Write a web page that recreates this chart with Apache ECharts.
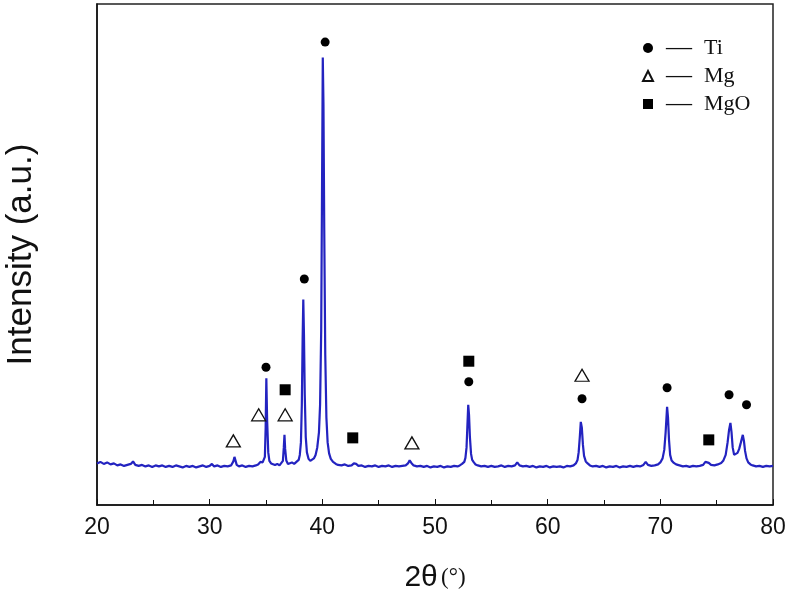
<!DOCTYPE html>
<html>
<head>
<meta charset="utf-8">
<script src="https://cdn.jsdelivr.net/npm/echarts@6/dist/echarts.min.js"></script>
<style>
  html, body { margin: 0; padding: 0; background: #fff; }
  #chart { width: 792px; height: 608px; }
</style>
</head>
<body>
<div id="chart"></div>
<script>
// XRD pattern, [2theta, intensity]
var xrd = [
  [20.0, 8.3], [20.3, 8.6], [20.6, 8.2], [20.9, 8.5], [21.2, 8.1], [21.5, 8.3], [21.8, 7.9], [22.1, 8.1],
  [22.4, 7.8], [22.7, 8.0], [23.0, 8.2], [23.2, 8.7], [23.4, 8.0], [23.7, 7.8], [24.0, 8.0], [24.3, 7.7],
  [24.6, 7.9], [24.9, 7.6], [25.2, 7.9], [25.5, 7.7], [25.8, 7.9], [26.1, 7.6], [26.4, 7.8], [26.7, 7.6],
  [27.0, 7.9], [27.3, 7.7], [27.6, 7.5], [27.9, 7.8], [28.2, 7.6], [28.5, 7.8], [28.8, 7.5], [29.1, 7.7],
  [29.4, 7.9], [29.7, 7.6], [30.0, 7.8], [30.2, 8.2], [30.4, 7.7], [30.7, 7.9], [31.0, 7.6], [31.3, 7.8],
  [31.6, 7.7], [31.9, 7.9], [32.0, 8.1], [32.1, 8.7], [32.2, 9.6], [32.3, 8.8], [32.4, 8.0], [32.6, 7.7],
  [32.9, 7.9], [33.2, 7.6], [33.5, 7.8], [33.8, 7.7], [34.1, 7.9], [34.3, 8.1], [34.5, 8.6], [34.6, 8.9],
  [34.7, 8.5], [34.8, 8.7], [34.9, 9.6], [34.97, 15.5], [35.03, 25.3], [35.1, 17.0], [35.2, 10.5], [35.3, 8.8],
  [35.45, 8.3], [35.6, 8.5], [35.8, 8.0], [36.0, 8.2], [36.2, 7.9], [36.35, 8.1], [36.5, 8.8], [36.58, 11.5],
  [36.64, 14.0], [36.7, 11.2], [36.8, 8.9], [36.95, 8.2], [37.1, 8.1], [37.3, 8.5], [37.5, 8.2], [37.7, 8.6],
  [37.9, 9.0], [38.0, 10.0], [38.1, 12.5], [38.18, 20.0], [38.25, 33.0], [38.31, 41.0], [38.37, 34.0],
  [38.44, 22.0], [38.53, 13.5], [38.63, 10.5], [38.78, 9.2], [38.93, 8.8], [39.1, 8.9], [39.25, 9.3],
  [39.4, 10.0], [39.55, 11.5], [39.7, 14.5], [39.8, 20.0], [39.9, 35.0], [39.97, 62.0], [40.04, 89.3],
  [40.1, 80.0], [40.17, 55.0], [40.26, 30.0], [40.36, 17.5], [40.47, 12.5], [40.6, 10.3], [40.75, 9.2],
  [40.95, 8.6], [41.2, 8.2], [41.4, 8.0], [41.7, 7.9], [42.0, 8.1], [42.3, 7.8], [42.6, 7.9], [42.8, 8.3],
  [42.9, 8.6], [43.0, 8.2], [43.2, 7.8], [43.5, 7.9], [43.8, 7.6], [44.1, 7.8], [44.4, 7.7], [44.7, 7.9],
  [45.0, 7.6], [45.3, 7.8], [45.6, 7.7], [45.9, 7.9], [46.2, 7.6], [46.5, 7.8], [46.8, 7.7], [47.1, 7.8],
  [47.4, 7.9], [47.6, 8.3], [47.75, 8.9], [47.9, 8.4], [48.1, 7.9], [48.4, 7.7], [48.7, 7.8], [49.0, 7.6],
  [49.3, 7.8], [49.6, 7.5], [49.9, 7.7], [50.2, 7.6], [50.5, 7.8], [50.8, 7.5], [51.1, 7.7], [51.4, 7.6],
  [51.7, 7.8], [52.0, 7.7], [52.2, 7.9], [52.4, 8.2], [52.6, 8.6], [52.7, 9.4], [52.8, 11.5], [52.87, 15.5],
  [52.95, 20.0], [53.02, 18.0], [53.1, 13.5], [53.2, 10.2], [53.3, 9.0], [53.45, 8.5], [53.6, 8.1], [53.8, 7.9],
  [54.1, 7.7], [54.4, 7.8], [54.7, 7.6], [55.0, 7.8], [55.3, 7.6], [55.6, 7.7], [55.9, 7.9], [56.2, 7.6],
  [56.5, 7.8], [56.8, 7.7], [57.1, 7.9], [57.3, 8.5], [57.5, 7.9], [57.8, 7.7], [58.1, 7.8], [58.4, 7.6],
  [58.7, 7.8], [59.0, 7.5], [59.3, 7.7], [59.6, 7.6], [59.9, 7.8], [60.2, 7.5], [60.5, 7.7], [60.8, 7.6],
  [61.1, 7.7], [61.4, 7.5], [61.7, 7.8], [62.0, 7.7], [62.3, 7.9], [62.5, 8.3], [62.65, 9.0], [62.75, 10.5],
  [62.85, 13.5], [62.94, 16.6], [63.03, 15.5], [63.13, 12.0], [63.23, 9.8], [63.38, 8.7], [63.55, 8.3],
  [63.75, 7.9], [64.0, 7.7], [64.3, 7.8], [64.6, 7.6], [64.9, 7.8], [65.2, 7.5], [65.5, 7.7], [65.8, 7.6],
  [66.1, 7.8], [66.4, 7.5], [66.7, 7.7], [67.0, 7.6], [67.3, 7.8], [67.6, 7.6], [67.9, 7.8], [68.2, 7.7],
  [68.5, 8.0], [68.7, 8.6], [68.9, 8.0], [69.2, 7.8], [69.5, 7.9], [69.8, 8.1], [70.0, 8.5], [70.2, 9.3],
  [70.35, 11.0], [70.47, 14.5], [70.6, 19.6], [70.68, 17.5], [70.77, 13.0], [70.87, 10.0], [71.0, 8.9],
  [71.2, 8.4], [71.4, 8.1], [71.7, 7.9], [72.0, 7.7], [72.3, 7.8], [72.6, 7.6], [72.9, 7.8], [73.2, 7.7],
  [73.5, 7.8], [73.8, 8.0], [74.0, 8.6], [74.15, 8.9], [74.3, 8.4], [74.5, 8.0], [74.8, 7.9], [75.1, 8.1],
  [75.4, 8.4], [75.6, 8.9], [75.8, 10.0], [75.97, 12.5], [76.1, 15.0], [76.22, 16.4], [76.32, 14.5],
  [76.42, 11.5], [76.55, 10.0], [76.7, 9.8], [76.85, 10.4], [77.0, 11.2], [77.15, 12.5], [77.32, 14.0],
  [77.42, 12.8], [77.52, 10.8], [77.65, 9.3], [77.8, 8.5], [78.0, 8.1], [78.2, 7.9], [78.5, 7.7],
  [78.8, 7.8], [79.1, 7.6], [79.4, 7.8], [79.7, 7.7], [80.0, 7.8]
];

// phase markers [2theta, height]
var tiMarks = [[35.0, 27.5], [38.4, 45.1], [40.25, 92.4], [53.0, 24.6], [63.05, 21.2], [70.6, 23.4], [76.1, 22.0], [77.65, 20.0]];
var mgMarks = [[32.1, 12.8], [34.35, 18.0], [36.7, 18.0], [47.95, 12.4], [63.05, 25.9]];
var mgoMarks = [[36.7, 23.0], [42.7, 13.4], [53.0, 28.7], [74.3, 13.0]];

var chart = echarts.init(document.getElementById('chart'));

var option = {
  backgroundColor: '#fff',
  animation: false,
  grid: {
    left: 97, right: 19, top: 4, bottom: 103,
    outerBoundsMode: 'none',
    show: true, borderColor: '#222', borderWidth: 1.5
  },
  legend: {
    orient: 'vertical',
    left: 637, top: 30,
    itemWidth: 10, itemHeight: 10,
    itemGap: 2,
    data: ['Ti', 'Mg', 'MgO'],
    formatter: function (name) { return '{d|—}{n|' + name + '}'; },
    textStyle: {
      fontFamily: 'Liberation Serif', fontSize: 22, color: '#111',
      rich: {
        d: { fontFamily: 'Liberation Serif', fontSize: 26, lineHeight: 24, color: '#111', padding: [0, 12, 0, 8] },
        n: { fontFamily: 'Liberation Serif', fontSize: 22, lineHeight: 24, color: '#111' }
      }
    }
  },
  xAxis: {
    type: 'value',
    min: 20, max: 80, interval: 10,
    name: '{a|2θ} {b|(°)}',
    nameLocation: 'middle',
    nameGap: 58,
    nameTextStyle: {
      rich: {
        a: { fontFamily: 'Liberation Sans', fontSize: 30, color: '#111' },
        b: { fontFamily: 'Liberation Serif', fontSize: 23, color: '#111' }
      }
    },
    axisLine: { lineStyle: { color: '#111', width: 1.5 } },
    axisTick: { inside: true, length: 6, lineStyle: { color: '#111' } },
    minorTick: { show: true, splitNumber: 2, length: 5, lineStyle: { color: '#111' } },
    axisLabel: { fontFamily: 'Liberation Sans', fontSize: 23, color: '#111', margin: 11 },
    splitLine: { show: false }
  },
  yAxis: {
    type: 'value',
    min: 0, max: 100,
    name: 'Intensity (a.u.)',
    nameLocation: 'middle',
    nameGap: 58,
    nameTextStyle: { fontFamily: 'Liberation Sans', fontSize: 35, color: '#111' },
    axisLine: { show: true, lineStyle: { color: '#111', width: 1.5 } },
    axisTick: { show: false },
    axisLabel: { show: false },
    splitLine: { show: false }
  },
  series: [
    {
      name: 'XRD',
      type: 'line',
      data: xrd,
      showSymbol: false,
      smooth: false,
      lineStyle: { color: '#2323c0', width: 2.2 },
      z: 2
    },
    {
      name: 'Ti',
      type: 'scatter',
      data: tiMarks,
      symbol: 'circle',
      symbolSize: 9,
      itemStyle: { color: '#000', opacity: 1 },
      z: 3
    },
    {
      name: 'Mg',
      type: 'scatter',
      data: mgMarks,
      symbol: 'triangle',
      symbolSize: [14, 12],
      itemStyle: { color: '#fff', borderColor: '#111', borderWidth: 1.3, opacity: 1 },
      z: 3
    },
    {
      name: 'MgO',
      type: 'scatter',
      data: mgoMarks,
      symbol: 'rect',
      symbolSize: 11,
      itemStyle: { color: '#000', opacity: 1 },
      z: 3
    }
  ]
};

chart.setOption(option);
</script>
</body>
</html>
